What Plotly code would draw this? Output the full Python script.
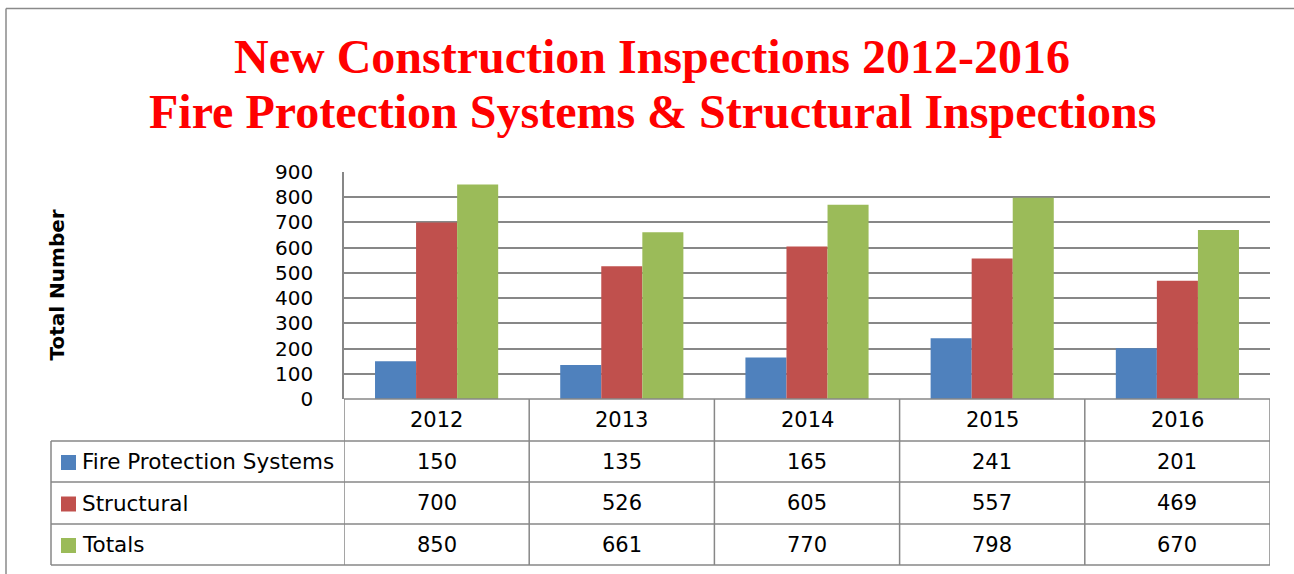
import plotly.graph_objects as go

years = ["2012", "2013", "2014", "2015", "2016"]
series_names = ["Fire Protection Systems", "Structural", "Totals"]
fire = [150, 135, 165, 241, 201]
structural = [700, 526, 605, 557, 469]
totals = [850, 661, 770, 798, 670]
colors = ["#4F81BD", "#C0504D", "#9BBB59"]
title_lines = ["New Construction Inspections 2012-2016",
               "Fire Protection Systems & Structural Inspections"]
y_title = "Total Number"

W, H = 1294, 574
def px(x):
    return x / W
def py(y):
    return 1 - y / H

plot_l, plot_r, plot_t, plot_b = 344, 1270, 172, 399
table_l = 51
row_edges = [399, 441, 482, 524, 565]
grid = "#878787"
FONT = "DejaVu Sans"

series_vals = [fire, structural, totals]
fig = go.Figure()
for name, vals, c in zip(series_names, series_vals, colors):
    fig.add_trace(go.Bar(x=years, y=vals, name=name, marker=dict(color=c, line=dict(width=0))))

fig.update_layout(
    width=W, height=H,
    margin=dict(l=0, r=0, t=0, b=0, autoexpand=False),
    paper_bgcolor="white", plot_bgcolor="white",
    barmode="group", bargap=0.335, bargroupgap=0,
    showlegend=False,
    xaxis=dict(domain=[px(plot_l), px(plot_r)], showticklabels=False, ticks="", automargin=False,
               showgrid=False, zeroline=False, showline=False, range=[-0.5, 4.5]),
    yaxis=dict(domain=[py(plot_b), py(plot_t)], range=[0, 900], dtick=100, automargin=False,
               showgrid=True, gridcolor=grid, gridwidth=1.5, zeroline=False,
               showline=True, linecolor=grid, linewidth=1.5,
               ticks="", ticklabelstandoff=25,
               tickfont=dict(family=FONT, size=20, color="black")),
)

shapes = []
ann = []
# outer border
shapes.append(dict(type="line", xref="paper", yref="paper", x0=px(6), x1=1, y0=py(8.5), y1=py(8.5),
                   line=dict(color="#8a8a8a", width=1.5)))
shapes.append(dict(type="line", xref="paper", yref="paper", x0=px(6), x1=px(6), y0=py(8.5), y1=0,
                   line=dict(color="#8a8a8a", width=1.5)))
# bottom axis line / table top
shapes.append(dict(type="line", xref="paper", yref="paper", x0=px(plot_l), x1=px(plot_r), y0=py(399), y1=py(399),
                   line=dict(color=grid, width=1.5)))
# table horizontal lines
for r in row_edges[1:]:
    shapes.append(dict(type="line", xref="paper", yref="paper", x0=px(table_l), x1=px(plot_r), y0=py(r), y1=py(r),
                       line=dict(color=grid, width=1.5)))
# table left edge
shapes.append(dict(type="line", xref="paper", yref="paper", x0=px(table_l), x1=px(table_l),
                   y0=py(row_edges[1]), y1=py(row_edges[-1]), line=dict(color=grid, width=1.5)))
# column separators (category boundaries)
for i in range(len(years) + 1):
    shapes.append(dict(type="line", xref="x", yref="paper", x0=i - 0.5, x1=i - 0.5,
                       y0=py(row_edges[0]), y1=py(row_edges[-1]), line=dict(color=grid, width=1.5)))

# header years
for i, yr in enumerate(years):
    ann.append(dict(x=i, y=py((row_edges[0] + row_edges[1]) / 2), xref="x", yref="paper", text=yr,
                    showarrow=False, font=dict(family=FONT, size=21, color="black"),
                    xanchor="center", yanchor="middle"))
# rows
for r, (name, vals, c) in enumerate(zip(series_names, series_vals, colors)):
    yc = (row_edges[r + 1] + row_edges[r + 2]) / 2
    shapes.append(dict(type="rect", xref="paper", yref="paper", x0=px(61), x1=px(76),
                       y0=py(yc - 7.5 + 1), y1=py(yc + 7.5 + 1), fillcolor=c, line=dict(width=0)))
    ann.append(dict(x=px(80), y=py(yc), xref="paper", yref="paper", text=name, showarrow=False,
                    font=dict(family=FONT, size=21.5, color="black"), xanchor="left", yanchor="middle"))
    for i, v in enumerate(vals):
        ann.append(dict(x=i, y=py(yc), xref="x", yref="paper", text=str(v), showarrow=False,
                        font=dict(family=FONT, size=21, color="black"), xanchor="center", yanchor="middle"))

# titles
for k, (t, base) in enumerate(zip(title_lines, [74, 129])):
    ann.append(dict(x=px(652), y=py(base + 11), xref="paper", yref="paper", text="<b>%s</b>" % t,
                    showarrow=False, font=dict(family="Liberation Serif", size=48, color="#FF0000"),
                    xanchor="center", yanchor="bottom"))
# y title
ann.append(dict(x=px(56), y=py((plot_t + plot_b) / 2), xref="paper", yref="paper", text="<b>%s</b>" % y_title,
                textangle=-90, showarrow=False, font=dict(family=FONT, size=20, color="black"),
                xanchor="center", yanchor="middle"))

fig.update_layout(shapes=shapes, annotations=ann)
fig.write_html("out.html", config={"displayModeBar": False},
               post_script="document.body.style.margin='0px';")
